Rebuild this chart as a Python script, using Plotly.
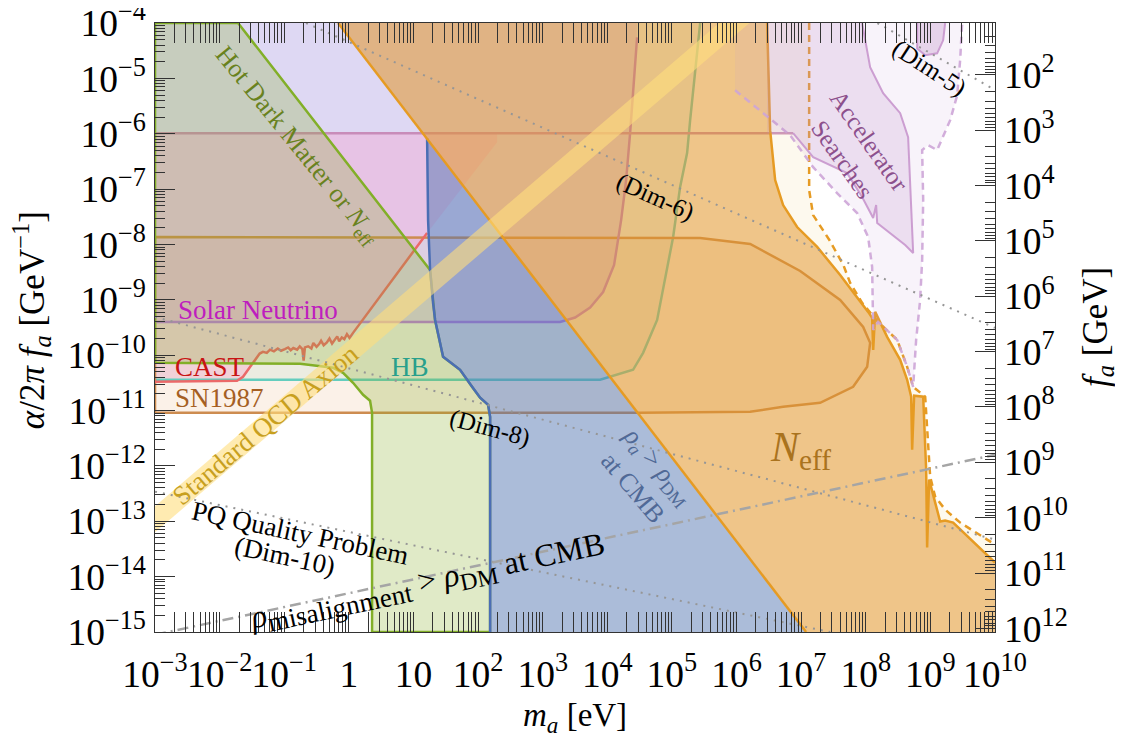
import math
import plotly.graph_objects as go

# ---------------- data (log10 of m_a [eV] and log10 of alpha/2pi f_a [GeV^-1]) ----------------
hb_lm = [-3, 3.889, 4.399, 4.554, 4.771, 4.926, 5.019, 5.127, 5.235, 5.282, 5.359, 5.437]
hb_lg = [-10.445, -10.445, -10.264, -9.958, -9.363, -8.461, -7.865, -6.963, -6.35, -5.755, -4.853, -4.0]

sol_lm = [-3, 3.269, 3.502, 3.734, 3.935, 4.105, 4.214, 4.291, 4.353, 4.415, 4.461]
sol_lg = [-9.399, -9.399, -9.32, -9.14, -8.86, -8.37, -7.56, -6.84, -5.99, -5.03, -4.26]

sn_lm = [-3, 5.437, 6.211, 6.985, 7.604, 7.960, 8.068, 8.022, 7.805, 7.294, 6.721, 6.211, 4.508, -3]
sn_lg = [-7.865, -7.883, -7.991, -8.479, -9.002, -9.489, -9.777, -10.210, -10.571, -10.860, -10.932, -11.022, -11.040, -11.040]

cast_lm = [-3, -1.731, -1.638, -1.421,
           -1.38, -1.33, -1.27, -1.22, -1.16, -1.10, -1.05, -0.99, -0.94, -0.90, -0.86, -0.80, -0.76,
           -0.72, -0.70, -0.68, -0.63, -0.58, -0.55, -0.50, -0.46, -0.43, -0.39, -0.34, -0.30,
           -0.26, -0.22, -0.18, -0.15, -0.11, -0.07, -0.03, 0.01,
           0.065, 1.211, 2.294, 2.294]
cast_lg = [-10.481, -10.463, -10.391, -10.048,
           -9.97, -9.94, -9.96, -9.90, -9.93, -9.88, -9.92, -9.89, -9.86, -9.91, -9.87, -9.90, -9.84,
           -9.89, -10.10, -9.86, -9.84, -9.88, -9.78, -9.85, -9.80, -9.74, -9.82, -9.77, -9.70,
           -9.79, -9.73, -9.66, -9.75, -9.68, -9.71, -9.62, -9.69,
           -9.597, -7.793, -6.152, -5.99]
acc_top_lg = -5.99   # upper horizontal boundary (1e-6)

hdm_lm = [-3, -1.715, 1.257, 1.303, 1.334, 1.458, 1.721, 1.907, 2.031, 2.155, 2.186, 2.186,
          0.359, 0.359, 0.328, 0.220, 0.065, -0.090, -0.245, -0.755, -3]
hdm_lg = [-4, -4, -8.461, -9.056, -9.363, -10.030, -10.264, -10.571, -10.769, -10.896, -11.112, -15,
          -15, -11.040, -10.823, -10.715, -10.499, -10.318, -10.228, -10.156, -10.138]

cmb_lm = [1.211, 7.077, 2.186, 2.186, 2.155, 2.031, 1.907, 1.721, 1.458, 1.334, 1.303, 1.257, 1.226, 1.211]
cmb_lg = [-6.080, -15, -15, -11.112, -10.896, -10.769, -10.571, -10.264, -10.030, -9.363, -9.056, -8.461, -7.559, -6.080]

neff_diag_lm = [-0.167, 7.077]
neff_diag_lg = [-4, -15]
neff_edge_lm = [6.474, 6.520, 6.598, 6.721, 6.938, 7.248, 7.604, 7.867, 8.037, 8.099, 8.115, 8.146, 8.223,
                8.331, 8.533, 8.641, 8.703, 8.718, 8.749, 8.889, 8.935, 8.950, 8.981, 9.074, 9.152, 9.229,
                9.353, 10]
neff_edge_lg = [-4, -5.935, -6.837, -7.288, -7.685, -8.045, -8.551, -8.948, -9.218, -9.327, -9.904, -9.218,
                -9.399, -9.669, -10.084, -10.445, -10.751, -11.707, -10.733, -10.751, -12.068, -13.475,
                -12.248, -12.663, -13.006, -12.988, -13.024, -13.745]

neff_dash_lm = [7.124, 7.124, 7.186, 7.437, 7.653, 7.759, 7.944, 8.192, 8.486, 8.641, 8.734, 8.920, 8.997,
                9.074, 9.229, 9.461, 9.879, 10]
neff_dash_lg = [-4, -7.018, -7.469, -7.919, -8.370, -8.695, -9.056, -9.399, -9.723, -10.210, -10.571,
                -10.751, -12.195, -12.555, -12.790, -13.024, -13.331, -13.421]

accl_lm = [5.978, 5.978, 6.830, 7.186, 7.557, 7.867, 8.037, 8.099, 8.115, 8.192, 8.486, 8.641, 8.734,
           8.780, 8.842, 8.873, 8.889, 8.873, 8.966, 9.105, 9.307, 9.415, 9.461, 9.492]
accl_lg = [-4, -5.214, -6.026, -6.603, -7.072, -7.433, -7.865, -8.407, -9.543, -9.399, -9.723, -10.210,
           -10.571, -9.723, -9.002, -8.280, -7.198, -6.296, -6.206, -6.296, -5.755, -5.304, -4.673, -4]

accm_lm = [6.474, 7.944, 8.068, 8.269, 8.533, 8.656, 8.687, 8.718, 8.734, 8.610, 8.378, 8.177, 8.161,
           8.115, 7.944, 7.712, 7.186, 6.876, 6.474]
accm_lg = [-4, -4, -4.799, -5.268, -5.629, -6.062, -6.963, -7.793, -8.154, -8.010, -7.793, -7.613, -7.288,
           -7.523, -7.144, -6.711, -6.422, -5.990, -5.990]

lobe_lm = [8.796, 8.796, 8.920, 9.105, 9.198, 9.229]
lobe_lg = [-4, -4.46, -4.583, -4.547, -4.312, -4]

qcd_m = [1e-3, 1e7]
qcd_g_hi = [1.86e-13, 1.86e-3]
qcd_g_lo = [6.3e-14, 6.3e-4]

dim5_m, dim5_g = [10**8.18, 1e10], [1e-4, 10**-5.21]
dim6_m, dim6_g = [10**-0.663, 1e10], [1e-4, 10**-9.507]
dim8_m, dim8_g = [1e-3, 1e10], [10**-9.309, 10**-13.33]
dim10_m, dim10_g = [1e-3, 10**7.449], [10**-12.465, 1e-15]
mis_m, mis_g = [1e-3, 1e10], [10**-15.05, 10**-11.80]

alpha_over_2pi = 1.1615e-3  # f_a = (alpha/2pi) / g

labels = [
    ("Hot Dark Matter or <i>N</i><sub>eff</sub>", -0.80, -6.22, 51, "rgb(105,130,30)", 26),
    ("Solar Neutrino", -1.406, -9.182, 0, "rgb(190,30,190)", 27),
    ("CAST", -2.149, -10.214, 0, "rgb(200,20,20)", 27),
    ("SN1987", -2.009, -10.77, 0, "rgb(165,95,35)", 27),
    ("HB", 0.947, -10.21, 0, "rgb(40,160,140)", 27),
    ("Standard QCD Axion", -1.297, -11.26, -40, "rgb(200,160,30)", 27),
    ("PQ Quality Problem", -0.755, -13.21, 12, "black", 27),
    ("(Dim-10)", -0.988, -13.62, 12, "black", 27),
    ("(Dim-8)", 2.186, -11.31, 15, "black", 25),
    ("(Dim-6)", 4.74, -7.15, 24, "black", 25),
    ("(Dim-5)", 8.98, -4.82, 33, "black", 25),
    ("<i>ρ</i><sub><i>a</i></sub> > <i>ρ</i><sub>DM</sub><br>at CMB", 4.585, -12.2, 50, "rgb(80,105,150)", 26),
    ("<i>ρ</i><sub><span style='font-size:27px'>misalignment</span></sub> > "
     "<i>ρ</i><sub><span style='font-size:24px'>DM</span></sub> at CMB", 1.226, -14.12, -12, "black", 32),
    ("Accelerator<br>Searches", 7.836, -6.30, 55, "rgb(140,80,140)", 25),
    ("<i>N</i><sub>eff</sub>", 6.985, -11.72, 0, "rgb(170,115,30)", 42),
]

# ---------------- helpers ----------------
def P(v):
    return [10 ** a for a in v]

fig = go.Figure()

def fill(lm, lg, color):
    fig.add_trace(go.Scatter(x=P(lm), y=P(lg), mode="lines", fill="toself", fillcolor=color,
                             line=dict(width=0, color="rgba(0,0,0,0)"), hoverinfo="skip", showlegend=False))

def line(x, y, color, width=2.5, dash="solid"):
    fig.add_trace(go.Scatter(x=x, y=y, mode="lines", line=dict(color=color, width=width, dash=dash),
                             hoverinfo="skip", showlegend=False))

# fills underneath
fill(hb_lm + [-3], hb_lg + [-4], "rgba(90,200,175,0.10)")
fill(sn_lm, sn_lg, "rgba(225,160,100,0.15)")
fill(sol_lm + [4.461, -3], sol_lg + [-4, -4], "rgba(175,120,230,0.25)")
fill(cast_lm + [-3], cast_lg + [acc_top_lg], "rgba(255,140,195,0.28)")

# their boundaries
line(P(hb_lm), P(hb_lg), "rgb(100,205,190)")
line(P(sn_lm + [sn_lm[0]]), P(sn_lg + [sn_lg[0]]), "rgb(205,140,80)")
line(P(sol_lm), P(sol_lg), "rgb(185,125,215)")
line(P(cast_lm[:-2]), P(cast_lg[:-2]), "rgb(235,105,105)")
line(P([-3, accm_lm[-2]]), P([acc_top_lg, acc_top_lg]), "rgb(200,140,185)")

# hot dark matter
fill(hdm_lm, hdm_lg, "rgba(130,170,30,0.25)")
line(P(hdm_lm + [hdm_lm[0]]), P(hdm_lg + [hdm_lg[0]]), "rgb(130,175,40)")

# rho_a > rho_DM at CMB
fill(cmb_lm, cmb_lg, "rgba(80,115,175,0.48)")
line(P(cmb_lm[2:]), P(cmb_lg[2:]), "rgb(75,110,180)")

# N_eff
fill(neff_diag_lm + [10] + neff_edge_lm[::-1], neff_diag_lg + [-15] + neff_edge_lg[::-1], "rgba(225,150,40,0.55)")
fill(neff_dash_lm + neff_edge_lm[::-1], neff_dash_lg + neff_edge_lg[::-1], "rgba(245,220,160,0.18)")
line(P(neff_diag_lm), P(neff_diag_lg), "rgb(230,155,35)")
line(P(neff_edge_lm), P(neff_edge_lg), "rgb(230,155,35)")
line(P(neff_dash_lm), P(neff_dash_lg), "rgb(230,155,35)", dash="7px,5px")

# accelerator searches
fill(accl_lm, accl_lg, "rgba(200,160,210,0.12)")
line(P(accl_lm[1:]), P(accl_lg[1:]), "rgba(205,165,215,0.9)", dash="7px,5px")
fill(accm_lm, accm_lg, "rgba(190,140,200,0.2)")
line(P(accm_lm[1:-1]), P(accm_lg[1:-1]), "rgba(200,150,205,0.9)", width=2)
fill(lobe_lm, lobe_lg, "rgba(190,140,200,0.3)")
line(P(lobe_lm), P(lobe_lg), "rgba(200,150,205,0.9)", width=2)

# standard QCD axion band
fig.add_trace(go.Scatter(x=qcd_m + qcd_m[::-1], y=qcd_g_hi + qcd_g_lo[::-1], mode="lines", fill="toself",
                         fillcolor="rgba(255,222,125,0.6)", line=dict(width=0, color="rgba(0,0,0,0)"),
                         hoverinfo="skip", showlegend=False))

# operator-dimension lines and misalignment line
for mm, gg in [(dim5_m, dim5_g), (dim6_m, dim6_g), (dim8_m, dim8_g), (dim10_m, dim10_g)]:
    line(mm, gg, "rgb(150,150,150)", width=2, dash="2px,6px")
line(mis_m, mis_g, "rgb(165,165,165)", width=2.5, dash="11px,5px,2px,5px")

# dummy trace for the f_a axis
fig.add_trace(go.Scatter(x=[1.0], y=[1e5], yaxis="y2", mode="markers", marker=dict(opacity=0),
                         hoverinfo="skip", showlegend=False))

FONT = "Liberation Serif"
for text, lx, ly, ang, col, sz in labels:
    fig.add_annotation(x=lx, y=ly, xref="x", yref="y", text=text, showarrow=False, textangle=ang,
                       font=dict(family=FONT, size=sz, color=col), xanchor="center", yanchor="middle")

# axis titles
fig.add_annotation(x=0.5, y=-0.14, xref="paper", yref="paper", showarrow=False, xanchor="center",
                   yanchor="middle", text="<i>m</i><sub><i>a</i></sub> [eV]",
                   font=dict(family=FONT, size=33, color="black"))
fig.add_annotation(x=-0.1476, y=0.512, xref="paper", yref="paper", showarrow=False, textangle=-90,
                   xanchor="center", yanchor="middle",
                   text="<i>α</i>/2<i>π</i> <i>f</i><sub><i>a</i></sub> [GeV<sup>−1</sup>]",
                   font=dict(family=FONT, size=35, color="black"))
fig.add_annotation(x=1.1226, y=0.501, xref="paper", yref="paper", showarrow=False, textangle=-90,
                   xanchor="center", yanchor="middle",
                   text="<i>f</i><sub><i>a</i></sub> [GeV]", font=dict(family=FONT, size=35, color="black"))

axcol = "#333333"
common = dict(type="log", dtick=1, exponentformat="power", showgrid=False, zeroline=False, automargin=False,
              ticks="inside", ticklen=20, tickwidth=1, tickcolor=axcol, showline=True, linecolor=axcol,
              linewidth=1, tickfont=dict(family=FONT, size=30, color="black"), tickangle=0,
              ticklabeloverflow="allow",
              minor=dict(ticks="inside", ticklen=10, tickwidth=1, tickcolor=axcol, showgrid=False))

# the page body adds an 8 px offset, so the figure is 8 px smaller and margins are shifted
fig.update_layout(
    width=1115, height=734, margin=dict(l=147, r=128, t=15, b=109.5, autoexpand=False),
    plot_bgcolor="white", paper_bgcolor="white", showlegend=False,
    font=dict(family=FONT, size=30, color="black"),
    xaxis=dict(range=[-3.0005, 10.0005], mirror="allticks", ticklabelstandoff=10, **common),
    yaxis=dict(range=[-15.0005, -3.9995], mirror=True, ticklabelstandoff=2, **common),
    yaxis2=dict(range=[math.log10(alpha_over_2pi / 1e-15), math.log10(alpha_over_2pi / 1e-4)],
                overlaying="y", side="right", ticklabelstandoff=2, **common),
)

fig.write_html("out.html")
